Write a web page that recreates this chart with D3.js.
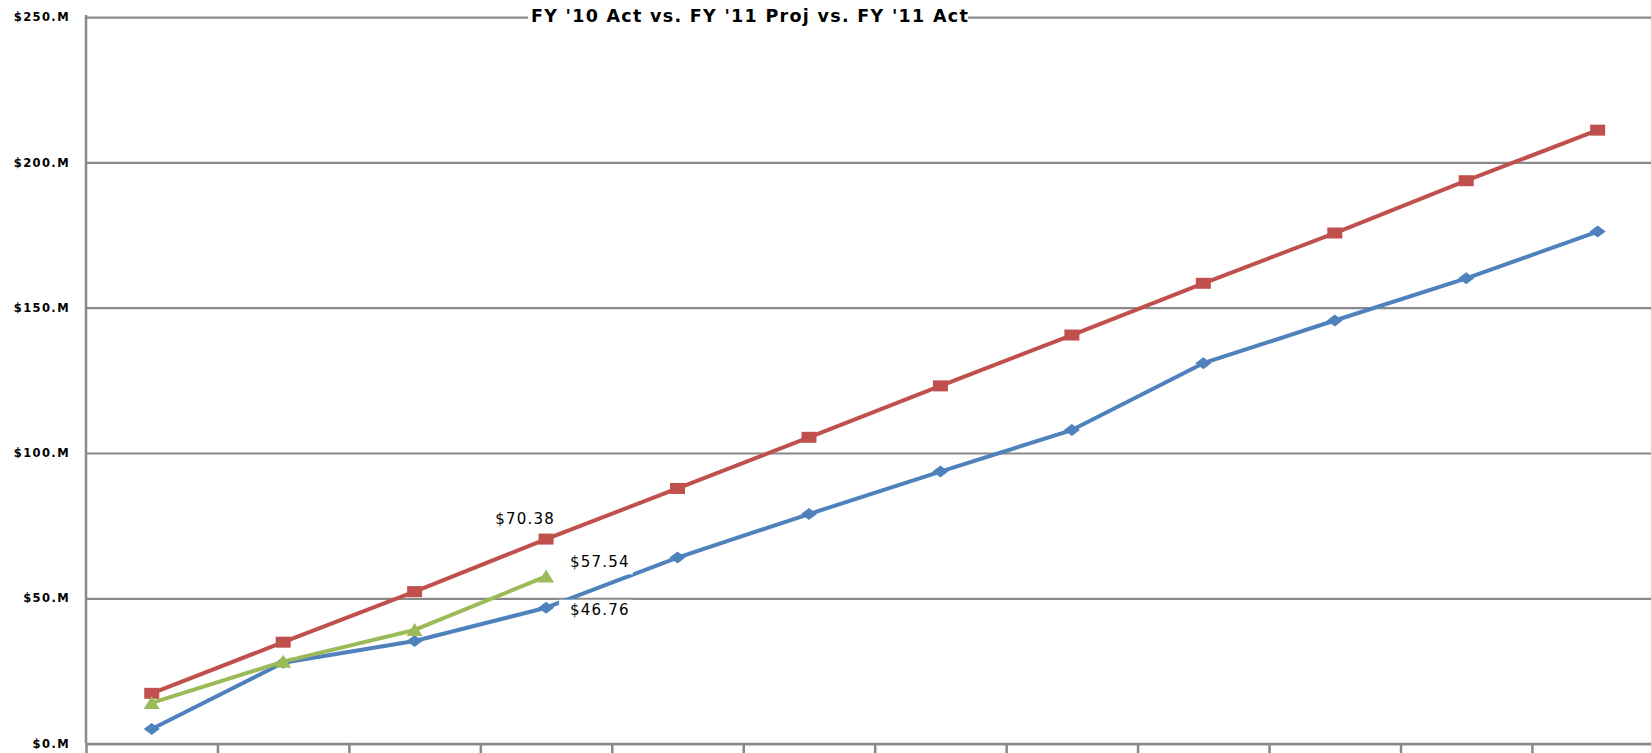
<!DOCTYPE html>
<html>
<head>
<meta charset="utf-8">
<script src="https://cdn.jsdelivr.net/npm/d3@7"></script>
<style>
  body { margin: 0; background: #ffffff; }
  svg { display: block; }
</style>
</head>
<body>
<div id="chart"></div>
<script>
// Chart data
var months = ["Jul", "Aug", "Sep", "Oct", "Nov", "Dec", "Jan", "Feb", "Mar", "Apr", "May", "Jun"];
var fy10Act = [5.0, 27.8, 35.3, 46.76, 64.0, 79.0, 93.6, 107.9, 130.9, 145.6, 160.1, 176.2];
var fy11Proj = [17.3, 34.9, 52.3, 70.38, 87.8, 105.4, 123.1, 140.6, 158.4, 175.7, 193.7, 211.1];
var fy11Act = [14.0, 28.2, 39.1, 57.54];
var yTicks = [0, 50, 100, 150, 200, 250];
var chartTitle = "FY '10 Act vs. FY '11 Proj vs. FY '11 Act";

// SVG area
var svgWidth = 1651;
var svgHeight = 753;

var margin = { top: 17.1, left: 86 };
var width = 12 * 131.45;
var height = 726.5;

var svg = d3.select("#chart")
  .append("svg")
  .attr("width", svgWidth)
  .attr("height", svgHeight)
  .style("overflow", "hidden");

var chartGroup = svg.append("g")
  .attr("transform", `translate(${margin.left}, ${margin.top})`);

// Scales
var xScale = d3.scaleBand()
  .domain(months)
  .range([0, width]);

var xTickScale = d3.scaleLinear()
  .domain([0, months.length])
  .range([0, width]);

var yScale = d3.scaleLinear()
  .domain([0, 250])
  .range([height, 0]);

var xPos = function(i) { return xScale(months[i]) + xScale.bandwidth() / 2; };

// Gridlines
var grid = chartGroup.append("g")
  .call(d3.axisLeft(yScale).tickValues(yTicks).tickSize(-width - 20).tickFormat(""));
grid.select(".domain").remove();
grid.selectAll("line")
  .attr("stroke", "#898989")
  .attr("stroke-width", 2.2);

// Axes
var bottomAxis = chartGroup.append("g")
  .attr("transform", `translate(0, ${height})`)
  .call(d3.axisBottom(xTickScale).ticks(12).tickSize(10).tickSizeOuter(0).tickFormat(""));
bottomAxis.select(".domain").attr("stroke", "#898989").attr("stroke-width", 2.5);
bottomAxis.selectAll("line").attr("stroke", "#898989").attr("stroke-width", 2.5);

var leftAxis = chartGroup.append("g")
  .call(d3.axisLeft(yScale).tickValues(yTicks).tickSize(0).tickPadding(16)
    .tickFormat(function(d) { return "$" + d + ".M"; }));
leftAxis.select(".domain")
  .attr("d", `M0,${height}V-2`)
  .attr("stroke", "#898989")
  .attr("stroke-width", 2.5);
leftAxis.selectAll("text")
  .attr("font-family", "DejaVu Sans, Verdana, sans-serif")
  .attr("font-weight", "bold")
  .attr("font-size", "11.5px")
  .attr("letter-spacing", "1.4px")
  .attr("fill", "#000");

// Title with white background over the top gridline
var titleGroup = svg.append("g");
var titleText = titleGroup.append("text")
  .attr("x", 750)
  .attr("y", 21.5)
  .attr("text-anchor", "middle")
  .attr("font-family", "DejaVu Sans, Verdana, sans-serif")
  .attr("font-weight", "bold")
  .attr("font-size", "17.5px")
  .attr("letter-spacing", "1.3px")
  .attr("fill", "#000")
  .text(chartTitle);
var tb = titleText.node().getBBox();
titleGroup.insert("rect", "text")
  .attr("x", tb.x - 3)
  .attr("y", tb.y)
  .attr("width", tb.width + 2)
  .attr("height", tb.height)
  .attr("fill", "#fff");

// Series
var series = [
  { name: "FY '10 Act", values: fy10Act, color: "#4F81BD", marker: "diamond" },
  { name: "FY '11 Proj", values: fy11Proj, color: "#C0504D", marker: "square" },
  { name: "FY '11 Act", values: fy11Act, color: "#9BBB59", marker: "triangle" }
];

var markerPath = {
  diamond: "M-8,0L0,-6L8,0L0,6Z",
  square: "M-7.5,-5.5H7.5V5.5H-7.5Z",
  triangle: "M-8,6L0,-7L8,6Z"
};

var line = d3.line()
  .x(function(d, i) { return xPos(i); })
  .y(function(d) { return yScale(d); });

series.forEach(function(s) {
  chartGroup.append("path")
    .datum(s.values)
    .attr("d", line)
    .attr("fill", "none")
    .attr("stroke", s.color)
    .attr("stroke-width", 4)
    .attr("stroke-linejoin", "round");

  chartGroup.selectAll(null)
    .data(s.values)
    .enter()
    .append("path")
    .attr("transform", function(d, i) { return `translate(${xPos(i)}, ${yScale(d)})`; })
    .attr("d", markerPath[s.marker])
    .attr("fill", s.color);
});

// Data labels at the fourth month
var labelIdx = 3;
var dataLabels = [
  { value: fy11Proj[labelIdx], dx: -21, dy: -15, anchor: "middle", box: false },
  { value: fy11Act[labelIdx], dx: 24, dy: -9, anchor: "start", box: true },
  { value: fy10Act[labelIdx], dx: 24, dy: 7, anchor: "start", box: true }
];

dataLabels.forEach(function(l) {
  var lg = chartGroup.append("g");
  var t = lg.append("text")
    .attr("x", xPos(labelIdx) + l.dx)
    .attr("y", yScale(l.value) + l.dy)
    .attr("text-anchor", l.anchor)
    .attr("font-family", "DejaVu Sans, Verdana, sans-serif")
    .attr("font-size", "15px")
    .attr("letter-spacing", "1.2px")
    .attr("fill", "#000")
    .text("$" + l.value.toFixed(2));
  if (l.box) {
    var b = t.node().getBBox();
    lg.insert("rect", "text")
      .attr("x", b.x - 11)
      .attr("y", b.y - 1)
      .attr("width", b.width + 14)
      .attr("height", b.height + 4)
      .attr("fill", "#fff");
  }
});
</script>
</body>
</html>
